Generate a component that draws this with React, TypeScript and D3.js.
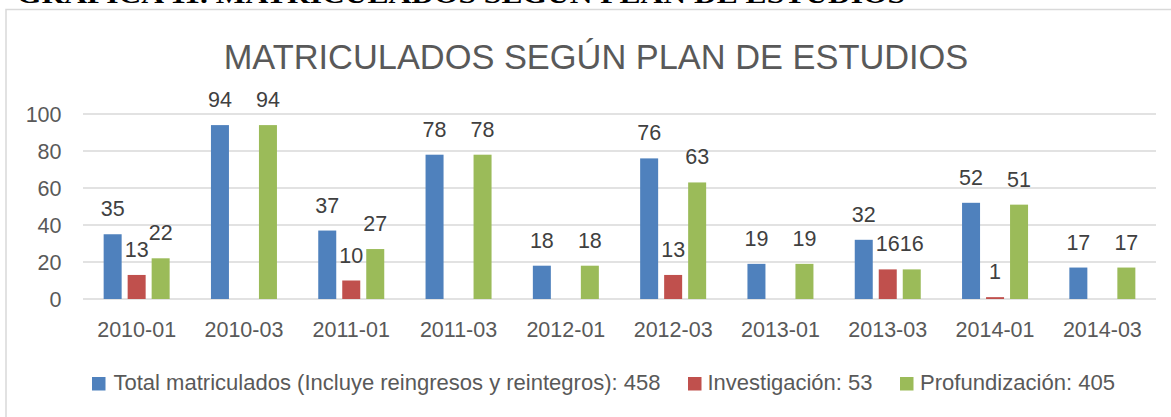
import React from "react";
import * as d3 from "d3";

const categories = ["2010-01", "2010-03", "2011-01", "2011-03", "2012-01", "2012-03", "2013-01", "2013-03", "2014-01", "2014-03"];
const totalValues = [35, 94, 37, 78, 18, 76, 19, 32, 52, 17];
const investigacionValues = [13, 0, 10, 0, 0, 13, 0, 16, 1, 0];
const profundizacionValues = [22, 94, 27, 78, 18, 63, 19, 16, 51, 17];
const seriesNames = [
  "Total matriculados (Incluye reingresos y reintegros): 458",
  "Investigación: 53",
  "Profundización: 405",
];
const seriesColors = ["#4f81bd", "#c0504d", "#9bbb59"];
const yTicks = [0, 20, 40, 60, 80, 100];
const chartTitle = "MATRICULADOS SEGÚN PLAN DE ESTUDIOS";
const pageHeading = "GRÁFICA 11. MATRICULADOS SEGÚN PLAN DE ESTUDIOS";

const W = 1171;
const H = 417;
const FONT = "'Liberation Sans', Arial, sans-serif";

export default function App() {
  const seriesValues = [totalValues, investigacionValues, profundizacionValues];
  const x0 = d3.scaleBand<string>().domain(categories).range([83, 1156]).paddingInner(0).paddingOuter(0);
  const groupW = 66;
  const x1 = d3
    .scaleBand<number>()
    .domain([0, 1, 2])
    .range([(x0.bandwidth() - groupW) / 2, (x0.bandwidth() + groupW) / 2])
    .paddingInner(0.25)
    .paddingOuter(0);
  const y = d3.scaleLinear().domain([0, 100]).range([299, 114]);

  const legendItems = [
    { sq: 92, tx: 113.5 },
    { sq: 688, tx: 707.5 },
    { sq: 900, tx: 920 },
  ];
  const legendW = [547, 165, 195];

  return (
    <svg
      width={W}
      height={H}
      style={{ position: "absolute", left: 0, top: 0, background: "#fff" }}
      fontFamily={FONT}
    >
      <rect x={0} y={0} width={W} height={H} fill="#fff" />
      <text
        x={17}
        y={3}
        fontFamily="'Liberation Serif', 'Times New Roman', serif"
        fontWeight="bold"
        fontSize={26}
        fill="#000"
        textLength={888}
        lengthAdjust="spacingAndGlyphs"
      >
        {pageHeading}
      </text>
      <rect x={6} y={9.5} width={W + 20} height={H + 20} fill="#fff" stroke="#d9d9d9" strokeWidth={1.5} />
      <text
        x={596}
        y={69.3}
        textAnchor="middle"
        fontSize={34.4}
        fill="#595959"
      >
        {chartTitle}
      </text>
      {yTicks.map((t) => (
        <g key={t}>
          <line x1={83} x2={1156} y1={y(t)} y2={y(t)} stroke="#d9d9d9" strokeWidth={1.5} />
          <text x={61.5} y={y(t) + 7.5} textAnchor="end" fontSize={21.5} fill="#595959">
            {t}
          </text>
        </g>
      ))}
      {categories.map((c, ci) => (
        <g key={c} transform={`translate(${x0(c)},0)`}>
          {seriesValues.map((vals, si) => {
            const v = vals[ci];
            if (!v) return null;
            const bx = x1(si)!;
            const bw = x1.bandwidth();
            return (
              <g key={si}>
                <rect x={bx} y={y(v)} width={bw} height={y(0) - y(v)} fill={seriesColors[si]} />
                <text
                  x={bx + bw / 2}
                  y={y(v) - 18}
                  textAnchor="middle"
                  fontSize={21.5}
                  fill="#404040"
                >
                  {v}
                </text>
              </g>
            );
          })}
          <text x={x0.bandwidth() / 2} y={336.5} textAnchor="middle" fontSize={21.5} fill="#595959">
            {c}
          </text>
        </g>
      ))}
      {seriesNames.map((n, i) => (
        <g key={n}>
          <rect x={legendItems[i].sq} y={377} width={13.5} height={13.5} fill={seriesColors[i]} />
          <text
            x={legendItems[i].tx}
            y={389.5}
            fontSize={21.5}
            fill="#595959"
            textLength={legendW[i]}
            lengthAdjust="spacingAndGlyphs"
          >
            {n}
          </text>
        </g>
      ))}
    </svg>
  );
}
